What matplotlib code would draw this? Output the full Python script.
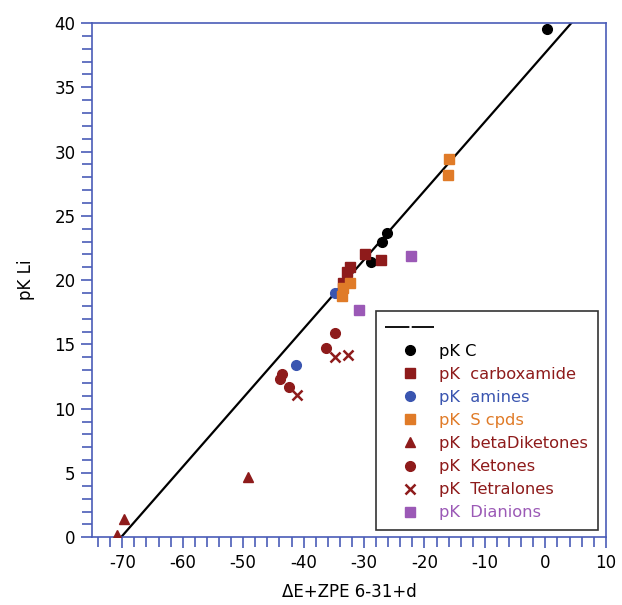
import matplotlib
matplotlib.use('Agg')
import matplotlib.pyplot as plt
from matplotlib.lines import Line2D
from matplotlib.ticker import MultipleLocator

plt.rcParams['font.family'] = ['DejaVu Sans']
plt.rcParams['axes.unicode_minus'] = False

# Data
pkc_x = [0.2, -26.2, -27.0, -28.9]
pkc_y = [39.5, 23.7, 23.0, 21.4]

carbox_x = [-29.9, -27.2, -32.3, -32.8, -33.5]
carbox_y = [22.0, 21.6, 21.0, 20.6, 19.8]

amines_x = [-34.8, -41.3]
amines_y = [19.0, 13.4]

scpd_x = [-16.0, -16.1, -32.3, -33.5, -33.7]
scpd_y = [29.4, 28.2, 19.8, 19.4, 18.8]

betadik_x = [-49.2, -69.7, -70.9]
betadik_y = [4.7, 1.4, 0.2]

ketones_x = [-34.8, -36.3, -43.6, -43.9, -42.4]
ketones_y = [15.9, 14.7, 12.7, 12.3, 11.7]

tetral_x = [-34.8, -32.7, -41.1]
tetral_y = [14.0, 14.2, 11.1]

dian_x = [-22.2, -30.8]
dian_y = [21.9, 17.7]

fit_x = [-70.2, 4.3]
fit_y = [0.0, 40.0]

AXCOL = '#4a5cb8'
DARKRED = '#8e1b1b'
BLUE = '#3a55b0'
ORANGE = '#e07b28'
PURPLE = '#9b59b6'

fig = plt.figure(figsize=(6.22, 6.05), dpi=100)
ax = fig.add_axes([0.148, 0.112, 0.826, 0.850])

ax.plot(fit_x, fit_y, color='black', lw=1.6, zorder=2)

ms = 7
ax.plot(pkc_x, pkc_y, 'o', color='black', ms=ms, ls='none', zorder=3)
ax.plot(carbox_x, carbox_y, 's', color=DARKRED, ms=ms, ls='none', zorder=3)
ax.plot(amines_x, amines_y, 'o', color=BLUE, ms=ms, ls='none', zorder=3)
ax.plot(scpd_x, scpd_y, 's', color=ORANGE, ms=ms, ls='none', zorder=3)
ax.plot(betadik_x, betadik_y, '^', color=DARKRED, ms=ms, ls='none', zorder=3)
ax.plot(ketones_x, ketones_y, 'o', color=DARKRED, ms=ms, ls='none', zorder=3)
ax.plot(tetral_x, tetral_y, 'x', color=DARKRED, ms=ms, mew=1.8, ls='none', zorder=3)
ax.plot(dian_x, dian_y, 's', color=PURPLE, ms=ms, ls='none', zorder=3)

ax.set_xlim(-75, 10)
ax.set_ylim(0, 40)
ax.xaxis.set_major_locator(MultipleLocator(10))
ax.xaxis.set_minor_locator(MultipleLocator(2))
ax.yaxis.set_major_locator(MultipleLocator(5))
ax.yaxis.set_minor_locator(MultipleLocator(1))

for s in ax.spines.values():
    s.set_color(AXCOL)
    s.set_linewidth(1.2)
ax.tick_params(which='both', direction='out', color=AXCOL, width=1.2,
               labelsize=12, top=False, right=False)
ax.tick_params(which='major', length=8, pad=4)
ax.tick_params(which='minor', length=7)

ax.set_xlabel('ΔE+ZPE 6-31+d', fontsize=12, labelpad=8)
ax.set_ylabel('pK Li', fontsize=12, labelpad=14)

handles = [
    Line2D([], [], color='black', lw=1.3, dashes=[13.5, 1.3]),
    Line2D([], [], marker='o', color='black', ls='none', ms=7),
    Line2D([], [], marker='s', color=DARKRED, ls='none', ms=7),
    Line2D([], [], marker='o', color=BLUE, ls='none', ms=7),
    Line2D([], [], marker='s', color=ORANGE, ls='none', ms=7),
    Line2D([], [], marker='^', color=DARKRED, ls='none', ms=7),
    Line2D([], [], marker='o', color=DARKRED, ls='none', ms=7),
    Line2D([], [], marker='x', color=DARKRED, ls='none', ms=7, mew=1.8),
    Line2D([], [], marker='s', color=PURPLE, ls='none', ms=7),
]
labels = [' ', 'pK C', 'pK  carboxamide', 'pK  amines', 'pK  S cpds',
          'pK  betaDiketones', 'pK  Ketones', 'pK  Tetralones', 'pK  Dianions']
text_colors = ['black', 'black', DARKRED, BLUE, ORANGE, DARKRED, DARKRED, DARKRED, PURPLE]

leg = ax.legend(handles, labels, loc='lower right', bbox_to_anchor=(0.984, 0.0136),
                borderaxespad=0, fontsize=11.7, frameon=True, fancybox=False,
                edgecolor='black', handlelength=3.0, handletextpad=0.3,
                labelspacing=0.5, borderpad=0.6)
leg.get_frame().set_linewidth(1.2)
for t, c in zip(leg.get_texts(), text_colors):
    t.set_color(c)

fig.savefig('out.png', dpi=100, facecolor='white')
